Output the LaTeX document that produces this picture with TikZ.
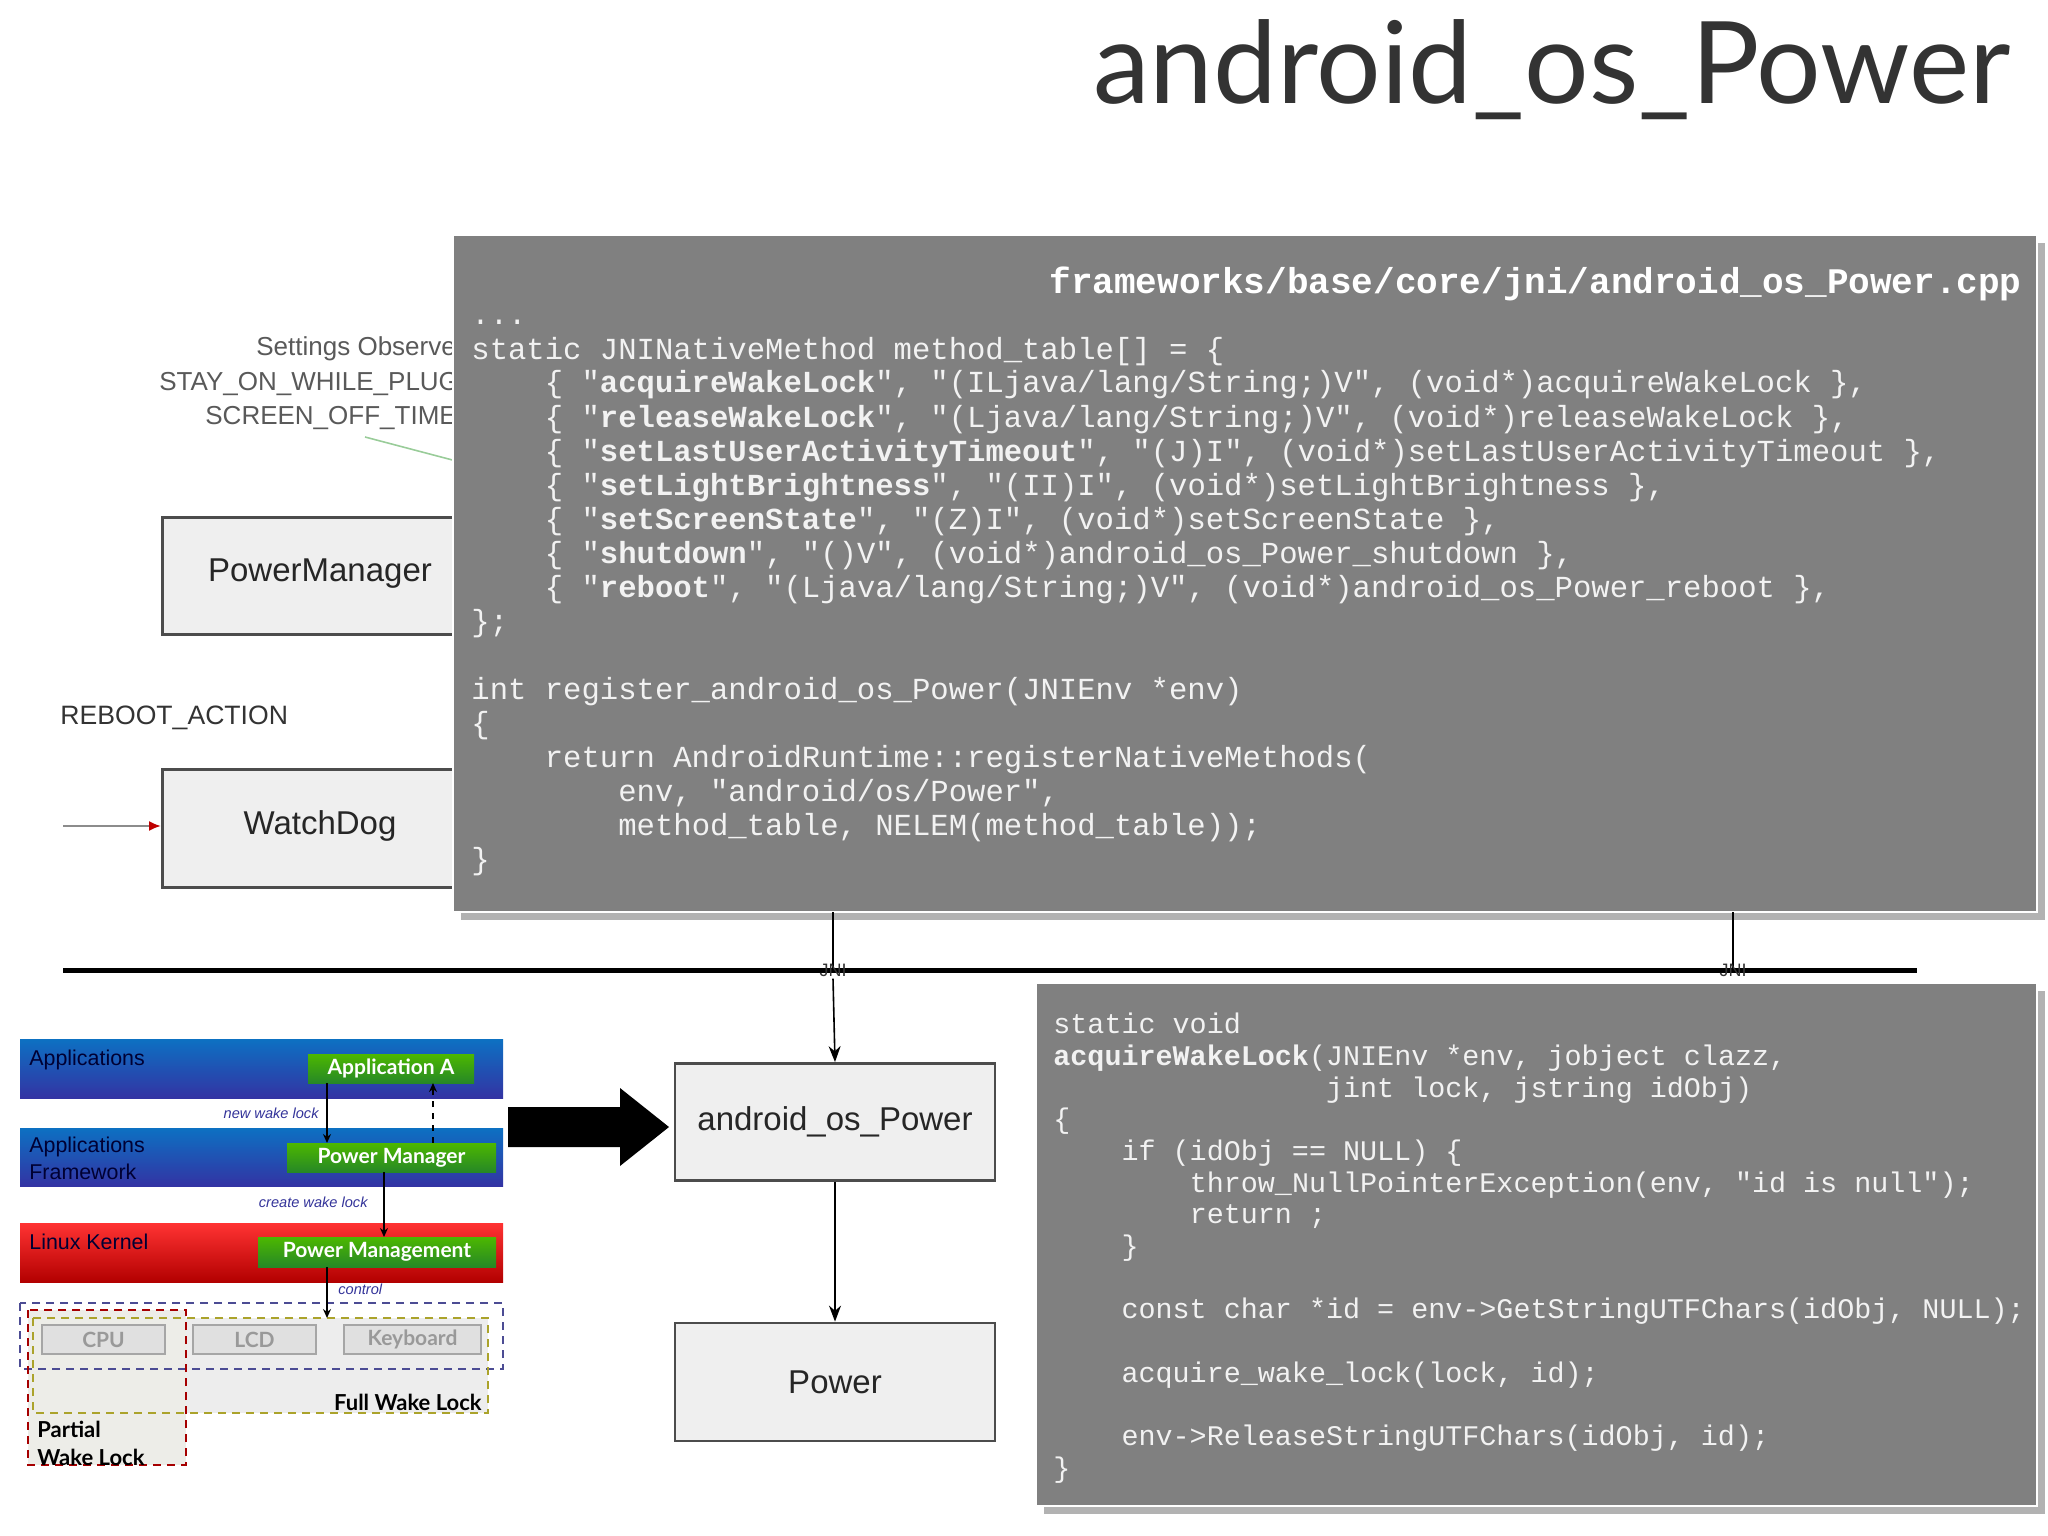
\documentclass[tikz,border=0pt]{standalone}
\usepackage{fontspec}
\setmainfont{Liberation Sans}
\newfontfamily\codef{Liberation Mono}
\newfontfamily\lato{Lato}
\usetikzlibrary{arrows.meta}
\definecolor{codebg}{HTML}{808080}
\definecolor{codetx}{HTML}{F2F2F2}
\definecolor{boxbg}{HTML}{EFEFEF}
\newcommand{\SP}[1]{\hspace*{#1\fontcharwd\font`x}}
\tikzset{
  codebox/.style={fill=codebg, draw=white, line width=0.8},
  shadowbox/.style={fill=black!30},
  topcode/.style={anchor=base west, inner sep=0, text=codetx, font=\codef\fontsize{15.3}{17}\selectfont},
  botcode/.style={anchor=base west, inner sep=0, text=codetx, font=\codef\fontsize{14.2}{16}\selectfont},
  flowbox/.style={draw=black!70, line width=1.4, fill=boxbg, inner sep=0},
  flowtext/.style={font=\fontsize{16.5}{18}\selectfont, text=black!85},
  greybig/.style={font=\fontsize{13}{14}\selectfont, text=black!65, anchor=base west, inner sep=0},
  bar/.style={draw=none},
  barlabel/.style={anchor=base west, inner sep=0, text=black!80!blue, font=\fontsize{10.7}{12}\selectfont},
  greenbox/.style={top color=green!60!black!70!yellow, bottom color=green!45!black!85, draw=none, inner sep=0, text=white, font=\lato\bfseries\fontsize{10.5}{12}\selectfont},
  hwbox/.style={fill=black!12, draw=black!35, line width=0.6, inner sep=0, text=black!40, font=\lato\bfseries\fontsize{10.5}{12}\selectfont},
  smalllab/.style={font=\itshape\fontsize{7.3}{8}\selectfont, text=blue!50!black!80, inner sep=0},
  flowarrow/.style={-{Stealth[length=8,width=6]}, line width=0.8, black},
  minarrow/.style={-{Stealth[length=4.5,width=4]}, line width=1, black}
}
\begin{document}
\begin{tikzpicture}[x=0.5pt,y=-0.5pt]
\useasboundingbox (0,0) rectangle (2048,1535);
% title
\node[anchor=base east, inner sep=0, text=black!80, font=\lato\fontsize{57}{60}\selectfont] (title) at (2011,104) {android\_os\_Power};

% left faded flow part
\node[greybig] (s1) at (256,356) {Settings Observer};
\node[greybig] (s2) at (159,390) {STAY\_ON\_WHILE\_PLUGGED};
\node[greybig] (s3) at (205,424) {SCREEN\_OFF\_TIMEOUT};
\coordinate (gA) at (365,437);
\coordinate (gB) at (460,462);
\draw[green!50!black!40, line width=0.8] (gA) -- (gB);
\node[flowbox, minimum width=165, minimum height=58.5, anchor=north west] (pm) at (161,516) {};
\node[flowtext] (pmt) at (320,574) {PowerManager};
\node[greybig, font=\fontsize{13.3}{14}\selectfont, text=black!80] (reboot) at (60,724) {REBOOT\_ACTION};
\node[flowbox, minimum width=165, minimum height=59, anchor=north west] (wd) at (161,768) {};
\node[flowtext] (wdt) at (320,826) {WatchDog};
\coordinate (rs) at (63,826);
\draw[black!45, line width=1, -{Latex[length=6,width=5,red!75!black]}] (rs) -- (rs -| wd.west);

% top code box
\fill[shadowbox] (461,243) rectangle (2045,920);
\path[codebox] (453,235) rectangle (2037,912);
\node[anchor=base east, inner sep=0, text=white, font=\codef\bfseries\fontsize{18}{20}\selectfont] (hdr) at (2022,294) {frameworks/base/core/jni/android\_os\_Power.cpp};
\node[topcode] (t0) at (471,325) {...};
\node[topcode] (t1) at (471,359) {static JNINativeMethod method\_table[] = \{};
\node[topcode] (t2) at (471,393) {\SP4\{ "\textbf{acquireWakeLock}", "(ILjava/lang/String;)V", (void*)acquireWakeLock \},};
\node[topcode] (t3) at (471,427) {\SP4\{ "\textbf{releaseWakeLock}", "(Ljava/lang/String;)V", (void*)releaseWakeLock \},};
\node[topcode] (t4) at (471,461) {\SP4\{ "\textbf{setLastUserActivityTimeout}", "(J)I", (void*)setLastUserActivityTimeout \},};
\node[topcode] (t5) at (471,495) {\SP4\{ "\textbf{setLightBrightness}", "(II)I", (void*)setLightBrightness \},};
\node[topcode] (t6) at (471,529) {\SP4\{ "\textbf{setScreenState}", "(Z)I", (void*)setScreenState \},};
\node[topcode] (t7) at (471,563) {\SP4\{ "\textbf{shutdown}", "()V", (void*)android\_os\_Power\_shutdown \},};
\node[topcode] (t8) at (471,597) {\SP4\{ "\textbf{reboot}", "(Ljava/lang/String;)V", (void*)android\_os\_Power\_reboot \},};
\node[topcode] (t9) at (471,631) {\};};
\node[topcode] (t11) at (471,699) {int register\_android\_os\_Power(JNIEnv *env)};
\node[topcode] (t12) at (471,733) {\{};
\node[topcode] (t13) at (471,767) {\SP4return AndroidRuntime::registerNativeMethods(};
\node[topcode] (t14) at (471,801) {\SP8env, "android/os/Power",};
\node[topcode] (t15) at (471,835) {\SP8method\_table, NELEM(method\_table));};
\node[topcode] (t16) at (471,869) {\}};

% JNI bus
\coordinate (busL) at (63,970);
\coordinate (busR) at (1917,970);
\draw[line width=2.5] (busL) -- (busR);
\coordinate (j1top) at (833,912);
\coordinate (j2top) at (1733,912);
\coordinate (j1) at (833,970);
\coordinate (j2) at (1733,970);
\draw[line width=0.8] (j1top) -- (j1);
\draw[line width=0.8] (j2top) -- (j2);
\node[inner sep=1, font=\fontsize{9}{10}\selectfont, text=black!80] (jni1) at (833,970) {JNI};
\node[inner sep=1, font=\fontsize{9}{10}\selectfont, text=black!80] (jni2) at (1733,970) {JNI};

% android_os_Power / Power
\node[flowbox, minimum width=160, minimum height=58.5] (aop) at (835,1122) {};
\node[flowtext] (aopt) at (aop) {android\_os\_Power};
\node[flowbox, minimum width=160, minimum height=59] (pw) at (835,1382) {};
\node[flowtext] (pwt) at (pw) {Power};
\draw[flowarrow] (jni1.south) -- (aop.north);
\draw[flowarrow] (aop.south) -- (pw.north);

% big arrow
\fill[black] (508,1107) -- (620,1107) -- (620,1088) -- (669,1127) -- (620,1166) -- (620,1147) -- (508,1147) -- cycle;

% bottom code box
\fill[shadowbox] (1044,991) rectangle (2045,1514);
\path[codebox] (1036,983) rectangle (2037,1506);
\node[botcode] (b0) at (1053,1033) {static void};
\node[botcode] (b1) at (1053,1065) {\textbf{acquireWakeLock}(JNIEnv *env, jobject clazz,};
\node[botcode] (b2) at (1053,1097) {\SP{16}jint lock, jstring idObj)};
\node[botcode] (b3) at (1053,1128) {\{};
\node[botcode] (b4) at (1053,1160) {\SP4if (idObj == NULL) \{};
\node[botcode] (b5) at (1053,1192) {\SP8throw\_NullPointerException(env, "id is null");};
\node[botcode] (b6) at (1053,1223) {\SP8return ;};
\node[botcode] (b7) at (1053,1255) {\SP4\}};
\node[botcode] (b9) at (1053,1318) {\SP4const char *id = env->GetStringUTFChars(idObj, NULL);};
\node[botcode] (b11) at (1053,1382) {\SP4acquire\_wake\_lock(lock, id);};
\node[botcode] (b13) at (1053,1445) {\SP4env->ReleaseStringUTFChars(idObj, id);};
\node[botcode] (b14) at (1053,1477) {\}};

% small Android power diagram
\path[bar, top color=blue!45!cyan!75!black!95, bottom color=blue!55!black!80] (20,1039) rectangle (503,1098);
\path[bar, top color=blue!45!cyan!75!black!95, bottom color=blue!55!black!80] (20,1128) rectangle (503,1186);
\path[bar, top color=red!80!white, bottom color=red!70!black] (20,1223) rectangle (503,1282);
\node[barlabel] (lapp) at (29,1065) {Applications};
\node[barlabel] (lfw1) at (29,1152) {Applications};
\node[barlabel] (lfw2) at (29,1179) {Framework};
\node[barlabel] (lk) at (29,1249) {Linux Kernel};
% wake lock regions
\fill[black!7] (33,1318) rectangle (488,1413);
\fill[yellow!20!black!10] (28,1310) rectangle (186,1465);
\draw[blue!40!black!70, line width=0.7, dash pattern=on 4 off 3] (20,1303) rectangle (503,1369);
\draw[olive!75, line width=0.7, dash pattern=on 4 off 3] (33,1318) rectangle (488,1413);
\draw[red!65!black, line width=0.7, dash pattern=on 4 off 3] (28,1310) rectangle (186,1465);
\node[hwbox, minimum width=61.5, minimum height=14.5] (cpu) at (103.5,1339.5) {CPU};
\node[hwbox, minimum width=61.5, minimum height=14.5] (lcd) at (254.5,1339.5) {LCD};
\node[hwbox, minimum width=68.5, minimum height=14.5] (kbd) at (412.5,1339.5) {Keyboard};
\node[anchor=base east, inner sep=0, font=\lato\bfseries\fontsize{11}{12}\selectfont] (full) at (482,1410) {Full Wake Lock};
\node[anchor=base west, inner sep=0, font=\lato\bfseries\fontsize{11}{12}\selectfont] (part1) at (37,1437) {Partial};
\node[anchor=base west, inner sep=0, font=\lato\bfseries\fontsize{11}{12}\selectfont] (part2) at (37,1465) {Wake Lock};
% green boxes
\node[greenbox, minimum width=83, minimum height=14.5] (appa) at (391,1068.5) {Application A};
\node[greenbox, minimum width=104.5, minimum height=14.5] (pmg) at (391.5,1157.5) {Power Manager};
\node[greenbox, minimum width=119, minimum height=15] (pmm) at (377,1252) {Power Management};
\coordinate (a1s) at (327,1083);
\coordinate (a1e) at (327,1143);
\coordinate (a2s) at (433,1143);
\coordinate (a2e) at (433,1083);
\coordinate (a3s) at (384,1172);
\coordinate (a3e) at (384,1237);
\coordinate (a4s) at (327,1267);
\coordinate (a4e) at (327,1318);
\draw[minarrow] (a1s) -- (a1e);
\draw[minarrow, dashed] (a2s) -- (a2e);
\draw[minarrow] (a3s) -- (a3e);
\draw[minarrow] (a4s) -- (a4e);
\node[smalllab, anchor=base east] (nwl) at (319,1118) {new wake lock};
\node[smalllab, anchor=base east] (cwl) at (368,1207) {create wake lock};
\node[smalllab, anchor=base west] (ctl) at (338,1294) {control};
\end{tikzpicture}
\end{document}
